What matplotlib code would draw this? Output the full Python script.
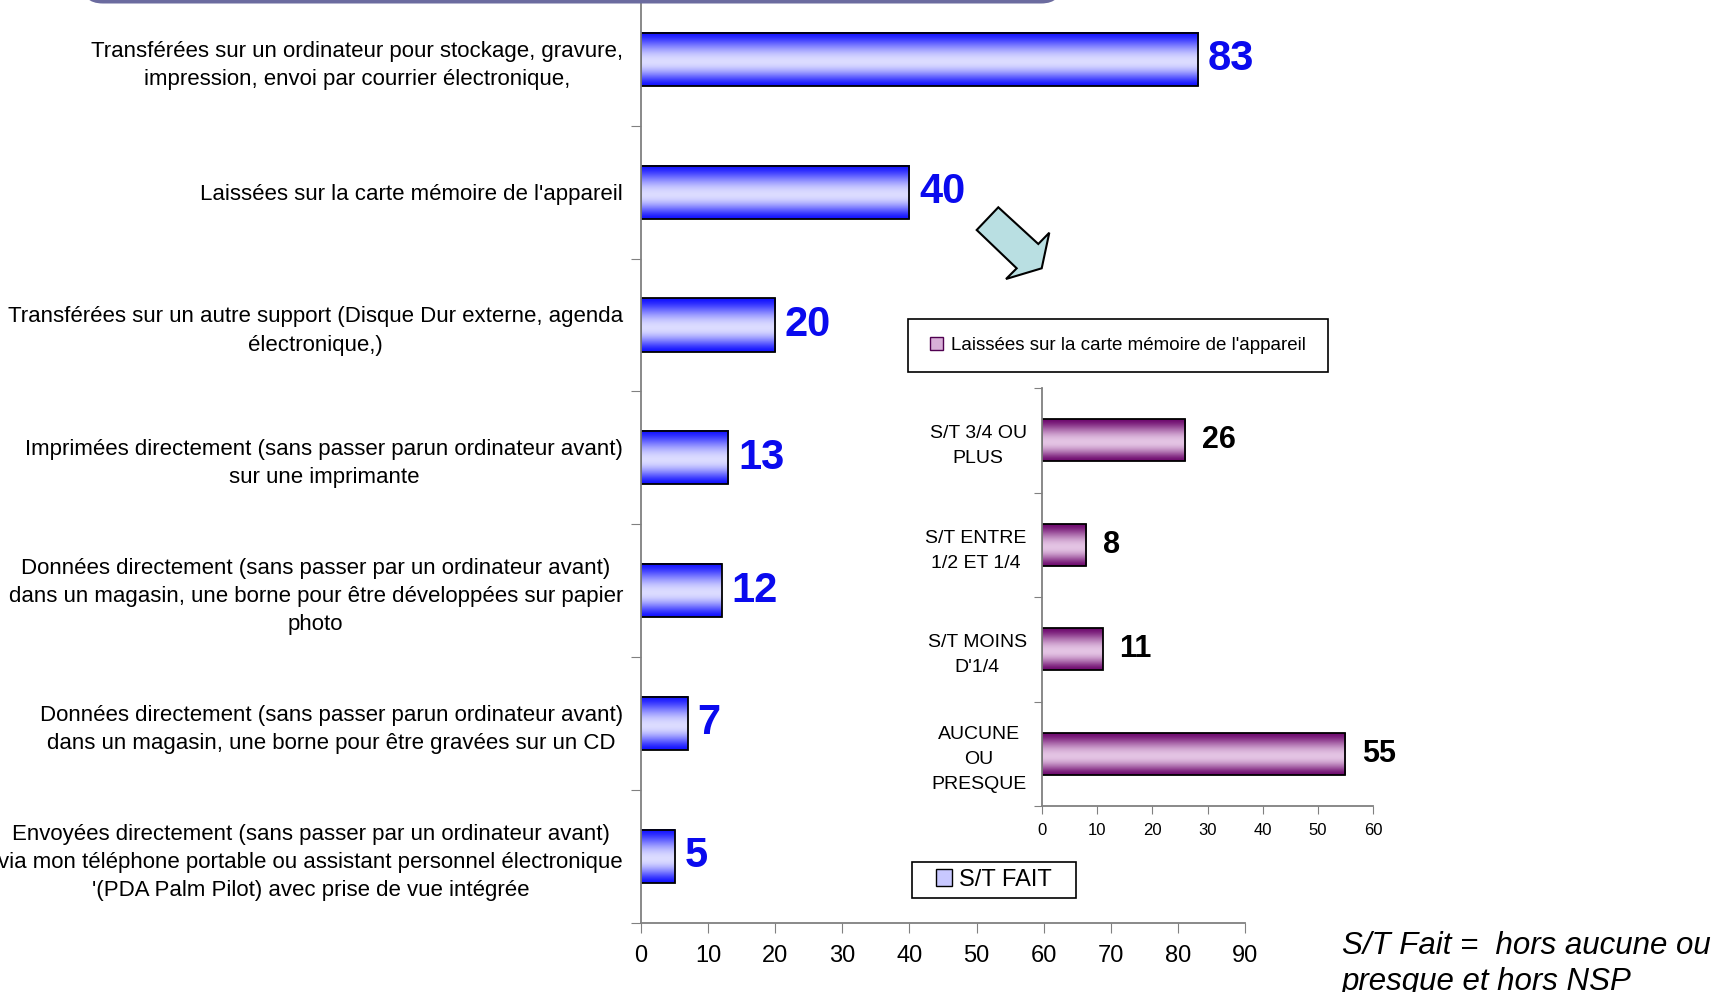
import numpy as np
import matplotlib
matplotlib.use("Agg")
import matplotlib.pyplot as plt
from matplotlib import font_manager
from matplotlib.colors import to_rgb
from matplotlib.patches import Polygon, Rectangle, FancyBboxPatch, Patch

W, H = 1727, 992

# data
categories = [
    "Transférées sur un ordinateur pour stockage, gravure,\nimpression, envoi par courrier électronique,",
    "Laissées sur la carte mémoire de l'appareil",
    "Transférées sur un autre support (Disque Dur externe, agenda\nélectronique,)",
    "Imprimées directement (sans passer parun ordinateur avant)\nsur une imprimante",
    "Données directement (sans passer par un ordinateur avant)\ndans un magasin, une borne pour être développées sur papier\nphoto",
    "Données directement (sans passer parun ordinateur avant)\ndans un magasin, une borne pour être gravées sur un CD",
    "Envoyées directement (sans passer par un ordinateur avant)\nvia mon téléphone portable ou assistant personnel électronique\n'(PDA Palm Pilot) avec prise de vue intégrée",
]
values = [83, 40, 20, 13, 12, 7, 5]
main_ticks = [0, 10, 20, 30, 40, 50, 60, 70, 80, 90]
main_legend = "S/T FAIT"

inset_categories = ["S/T 3/4 OU\nPLUS", "S/T ENTRE\n1/2 ET 1/4", "S/T MOINS\nD'1/4", "AUCUNE\nOU\nPRESQUE"]
inset_values = [26, 8, 11, 55]
inset_ticks = [0, 10, 20, 30, 40, 50, 60]
inset_legend = "Laissées sur la carte mémoire de l'appareil"

note_lines = ["S/T Fait =  hors aucune ou", "presque et hors NSP"]


def pick(name, fallback):
    try:
        font_manager.findfont(font_manager.FontProperties(family=name), fallback_to_default=False)
        return name
    except Exception:
        return fallback


REG = pick("Liberation Sans", "DejaVu Sans")
NARROW = pick("Liberation Sans Narrow", REG)


def px(x, y):
    # pixel position in the reference -> figure fraction
    return x / W, 1 - y / H


def gradient_bars(ax, bars, dark, light, peak=0.55):
    dark = np.array(to_rgb(dark))
    light = np.array(to_rgb(light))
    t = np.linspace(0, 1, 80)
    w = np.where(t < peak, t / peak, (1 - t) / (1 - peak))
    w = np.sin(w * np.pi / 2) ** 1.5
    img = (dark + (light - dark) * w[:, None])[:, None, :]
    for b in bars:
        x0, y0 = b.get_x(), b.get_y()
        ax.imshow(img, extent=[x0, x0 + b.get_width(), y0 + b.get_height(), y0],
                  aspect="auto", interpolation="bilinear", zorder=1)


fig = plt.figure(figsize=(W / 100, H / 100), dpi=100)

# banner at top edge
l, b_ = px(82, 3.5)
fig.patches.append(FancyBboxPatch((l, b_), (1062 - 82) / W, 0.05,
                                  boxstyle="round,pad=0,rounding_size=0.012",
                                  mutation_aspect=W / H, transform=fig.transFigure,
                                  facecolor="#6b6b9f", edgecolor="none"))

# ---- main chart
ax = fig.add_axes([641 / W, 1 - 922.5 / H, (1245 - 641) / W, (922.5 + 7) / H])
pos = np.arange(len(values))
bars = ax.barh(pos, values, height=0.4, facecolor="none", edgecolor="black", linewidth=1.3, zorder=2)
gradient_bars(ax, bars, "#1212ff", "#dcdcff")
ax.set_xlim(0, 90)
ax.set_ylim(len(values) - 0.5, -0.5)
ax.set_xticks(main_ticks)
ax.set_xticklabels([str(t) for t in main_ticks], fontfamily=NARROW, fontsize=17)
ax.set_yticks(np.arange(-0.5, len(values), 1))
ax.set_yticklabels([])
ax.set_yticks(pos, categories, minor=True)
for lab in ax.get_yticklabels(minor=True):
    lab.set_fontfamily(NARROW)
    lab.set_fontsize(16)
    lab.set_multialignment("center")
    lab.set_linespacing(1.45)
ax.tick_params(axis="y", which="major", direction="out", length=7, color="#808080")
ax.tick_params(axis="y", which="minor", length=0, pad=13)
ax.tick_params(axis="x", direction="out", length=7, color="#808080", pad=9)
for s in ("top", "right"):
    ax.spines[s].set_visible(False)
for s in ("left", "bottom"):
    ax.spines[s].set_color("#808080")
    ax.spines[s].set_linewidth(1.3)
for p, v in zip(pos, values):
    ax.annotate(str(v), xy=(v, p), xytext=(7, 0), textcoords="offset points",
                ha="left", va="center", color="#0a0aee", fontweight="bold",
                fontfamily=NARROW, fontsize=30)

# ---- inset chart
ai = fig.add_axes([1042 / W, 1 - 806 / H, (1373 - 1042) / W, (806 - 388) / H])
ipos = np.arange(len(inset_values))
ibars = ai.barh(ipos, inset_values, height=0.4, facecolor="none", edgecolor="black", linewidth=1.3, zorder=2)
gradient_bars(ai, ibars, "#6e0a6e", "#e4c4e4")
ai.set_xlim(0, 60)
ai.set_ylim(len(inset_values) - 0.5, -0.5)
ai.set_xticks(inset_ticks)
ai.set_xticklabels([str(t) for t in inset_ticks], fontfamily=NARROW, fontsize=12)
ai.set_yticks(np.arange(-0.5, len(inset_values), 1))
ai.set_yticklabels([])
ai.set_yticks(ipos, inset_categories, minor=True)
for lab in ai.get_yticklabels(minor=True):
    lab.set_fontfamily(REG)
    lab.set_fontsize(14)
    lab.set_multialignment("center")
    lab.set_linespacing(1.6)
ai.tick_params(axis="y", which="major", direction="out", length=6, color="#808080")
ai.tick_params(axis="y", which="minor", length=0, pad=11)
ai.tick_params(axis="x", direction="out", length=6, color="#808080", pad=6)
for s in ("top", "right"):
    ai.spines[s].set_visible(False)
for s in ("left", "bottom"):
    ai.spines[s].set_color("#808080")
    ai.spines[s].set_linewidth(1.3)
for p, v in zip(ipos, inset_values):
    ai.annotate(str(v), xy=(v, p), xytext=(12, 0), textcoords="offset points",
                ha="left", va="center", color="black", fontweight="bold",
                fontfamily=REG, fontsize=22)

# ---- legends (framed boxes)
x0, y0 = px(908, 372)
fig.patches.append(Rectangle((x0, y0), (1328 - 908) / W, 53 / H, transform=fig.transFigure,
                             facecolor="white", edgecolor="black", linewidth=1.2))
fig.legend(handles=[Patch(facecolor="#d8b0d8", edgecolor="#500050")], labels=[inset_legend],
           loc="center", bbox_to_anchor=(x0 + (1328 - 908) / W / 2, y0 + 53 / H / 2),
           frameon=False, prop={"family": REG, "size": 13.5},
           handlelength=0.7, handleheight=0.7, handletextpad=0.4)

x0, y0 = px(912, 898)
fig.patches.append(Rectangle((x0, y0), (1076 - 912) / W, 36.5 / H, transform=fig.transFigure,
                             facecolor="white", edgecolor="black", linewidth=1.2))
fig.legend(handles=[Patch(facecolor="#c8c8ff", edgecolor="black")], labels=[main_legend],
           loc="center", bbox_to_anchor=(x0 + (1076 - 912) / W / 2, y0 + 36.5 / H / 2),
           frameon=False, prop={"family": NARROW, "size": 17},
           handlelength=0.7, handleheight=0.7, handletextpad=0.3)

# ---- arrow pointing at the inset
arrow_px = [(998.3, 207.3), (1038.3, 244), (1049.3, 232.7), (1041.7, 268.3),
            (1006, 279), (1016.7, 268.3), (976.7, 230)]
fig.patches.append(Polygon([px(x, y) for x, y in arrow_px], closed=True, transform=fig.transFigure,
                           facecolor="#b9dfe2", edgecolor="black", linewidth=1.5))

# ---- note
fig.text(*px(1342, 954), note_lines[0], fontfamily=REG, fontstyle="italic", fontsize=22.5, va="baseline")
fig.text(*px(1342, 990), note_lines[1], fontfamily=REG, fontstyle="italic", fontsize=22.5, va="baseline")

fig.savefig("out.png", dpi=100)
